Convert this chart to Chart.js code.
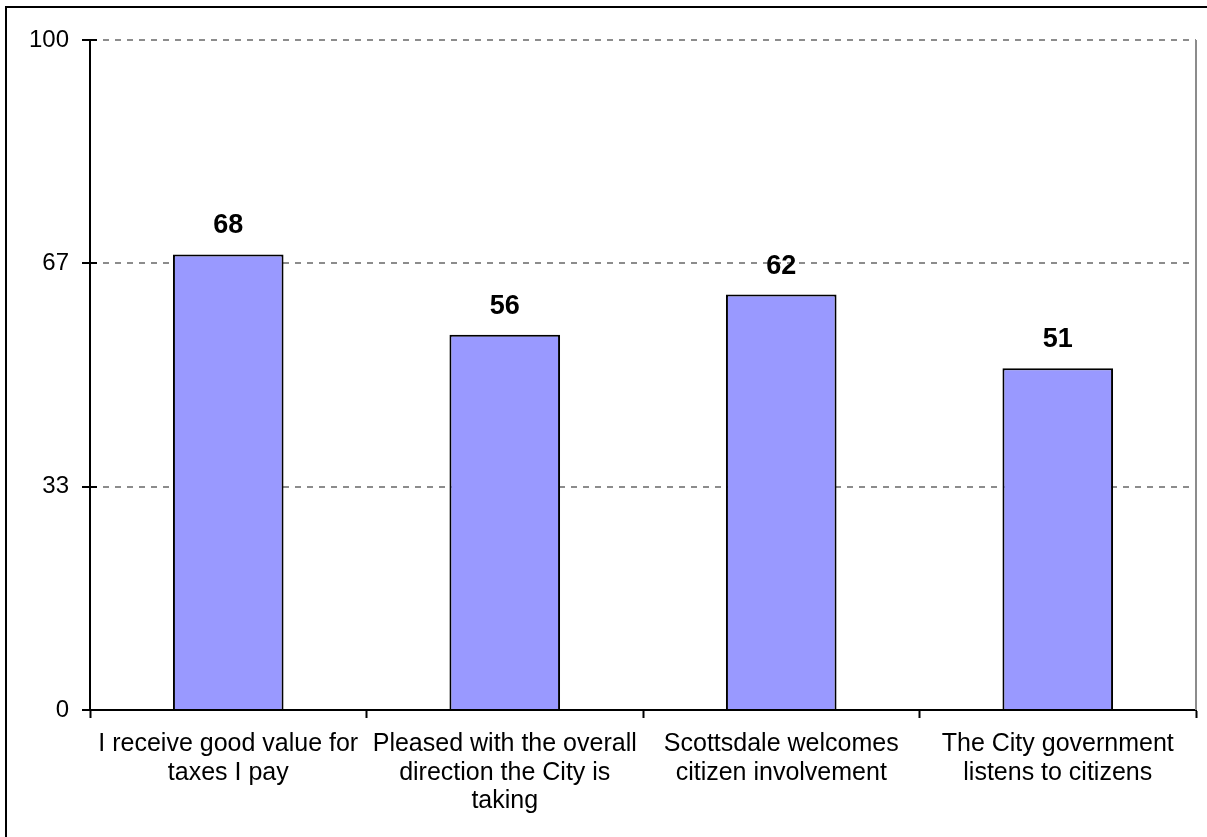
<!DOCTYPE html>
<html>
<head>
<meta charset="utf-8">
<script src="https://cdn.jsdelivr.net/npm/chart.js@4/dist/chart.umd.min.js"></script>
<style>
  body { margin: 0; background: #fff; }
  #wrap { width: 1207px; height: 837px; position: relative; }
</style>
</head>
<body>
<div id="wrap"><canvas id="chart" width="1207" height="837"></canvas></div>
<script>
const categories = [
  ['I receive good value for', 'taxes I pay'],
  ['Pleased with the overall', 'direction the City is', 'taking'],
  ['Scottsdale welcomes', 'citizen involvement'],
  ['The City government', 'listens to citizens']
]
const values = [68, 56, 62, 51]
const tickValues = [0, 33.33, 66.67, 100]
const tickLabels = ['0', '33', '67', '100']

const fontFamily = "'Liberation Sans', Arial, sans-serif"

// outer frame, right plot edge, crossing tick marks and value labels
const extras = {
  id: 'extras',
  afterDraw(chart) {
    const c = chart.ctx
    const a = chart.chartArea
    const y = chart.scales.y
    c.save()
    c.strokeStyle = '#8c8c8c'
    c.lineWidth = 2
    c.beginPath()
    c.moveTo(a.right, a.top)
    c.lineTo(a.right, a.bottom)
    c.stroke()

    c.strokeStyle = '#000'
    c.lineWidth = 2
    c.beginPath()
    tickValues.forEach((v) => {
      const py = Math.round(y.getPixelForValue(v))
      c.moveTo(a.left, py)
      c.lineTo(a.left + 7, py)
    })
    c.stroke()

    c.strokeRect(6, 7, 1220, 900)

    c.fillStyle = '#000'
    c.font = 'bold 27px ' + fontFamily
    c.textAlign = 'center'
    c.textBaseline = 'alphabetic'
    chart.getDatasetMeta(0).data.forEach((bar, i) => {
      c.fillText(String(values[i]), bar.x, bar.y - 21)
    })
    c.restore()
  }
}

new Chart(document.getElementById('chart').getContext('2d'), {
  type: 'bar',
  data: {
    labels: categories,
    datasets: [{
      data: values,
      backgroundColor: '#9999ff',
      borderColor: '#000',
      borderWidth: 2,
      categoryPercentage: 1,
      barPercentage: 0.4
    }]
  },
  options: {
    responsive: false,
    animation: false,
    layout: { padding: { top: 40, right: 11, left: 0, bottom: 0 } },
    plugins: { legend: { display: false }, tooltip: { enabled: false } },
    scales: {
      x: {
        afterFit: (s) => { s.height = 127 },
        border: { color: '#000', width: 2 },
        grid: {
          offset: true,
          drawOnChartArea: false,
          tickLength: 8,
          tickColor: '#000',
          tickWidth: 2
        },
        ticks: {
          color: '#000',
          padding: 12,
          maxRotation: 0,
          autoSkip: false,
          font: { family: fontFamily, size: 25, lineHeight: 1.14 }
        }
      },
      y: {
        min: 0,
        max: 100,
        afterFit: (s) => { s.width = 90 },
        afterBuildTicks: (s) => { s.ticks = tickValues.map((v) => ({ value: v })) },
        border: { color: '#000', width: 2, dash: [6, 6] },
        grid: {
          color: '#8c8c8c',
          lineWidth: 2,
          tickLength: 8,
          tickColor: '#000',
          tickWidth: 2,
          tickBorderDash: []
        },
        ticks: {
          color: '#000',
          padding: 13,
          font: { family: fontFamily, size: 24 },
          callback: (v, i) => tickLabels[i]
        }
      }
    }
  },
  plugins: [extras]
})
</script>
</body>
</html>
